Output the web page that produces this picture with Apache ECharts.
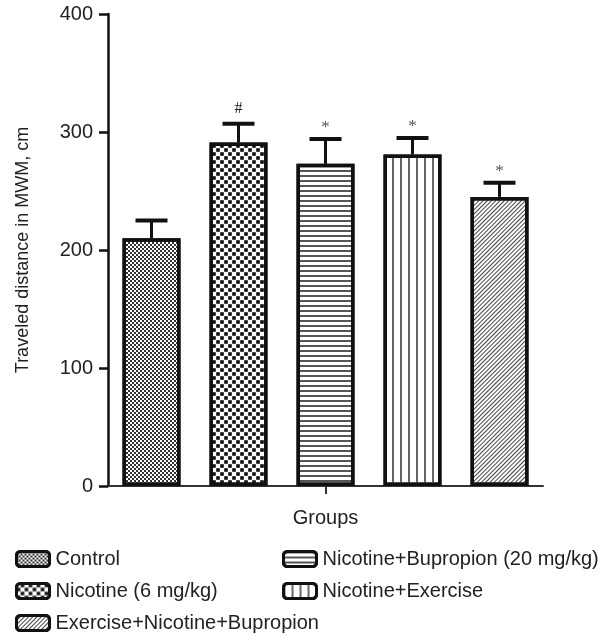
<!DOCTYPE html>
<html>
<head>
<meta charset="utf-8">
<script src="https://cdn.jsdelivr.net/npm/echarts@6/dist/echarts.min.js"></script>
<style>
html,body{margin:0;padding:0;background:#fff;}
#c{width:605px;height:642px;}
</style>
</head>
<body>
<div id="c"></div>
<script>
const groups = ['Control', 'Nicotine (6 mg/kg)', 'Nicotine+Bupropion (20 mg/kg)', 'Nicotine+Exercise', 'Exercise+Nicotine+Bupropion'];
const means = [210, 291, 273, 281, 245];
const sems = [15, 16, 21, 14, 12];
const marks = ['', '#', '*', '*', '*'];
const yMin = 0, yMax = 400, yStep = 100;

const FONT = '"Liberation Sans", Arial, Helvetica, sans-serif';

const decals = [
  { symbol: 'rect', symbolSize: 1, dashArrayX: [[1.5, 1.5], [0, 1.5, 1.5, 0]], dashArrayY: [1.5, 0], color: '#333' },
  { symbol: 'rect', symbolSize: 0.9, dashArrayX: [[4, 4], [0, 4, 4, 0]], dashArrayY: [4, 0], color: '#111' },
  { symbol: 'rect', symbolSize: 1, dashArrayX: [1, 0], dashArrayY: [1.6, 2.1], color: '#555' },
  { symbol: 'rect', symbolSize: 1, dashArrayX: [1.6, 6], dashArrayY: [1, 0], color: '#666' },
  { symbol: 'rect', symbolSize: 1, dashArrayX: [1, 0], dashArrayY: [1, 1.6], rotation: -Math.PI / 4, color: '#444' }
];

const barSeries = groups.map((g, i) => ({
  name: g,
  type: 'bar',
  xAxisIndex: 0,
  barWidth: 58,
  barGap: '-100%',
  data: means.map((v, j) => (j === i ? v : '-')),
  itemStyle: {
    color: '#ffffff',
    borderColor: '#111',
    borderWidth: 3.5,
    decal: decals[i]
  },
  emphasis: { disabled: true },
  z: 2
}));

const errSeries = {
  type: 'custom',
  xAxisIndex: 0,
  data: means.map((m, i) => [i, m, sems[i]]),
  z: 3,
  silent: true,
  renderItem: function (params, api) {
    const i = api.value(0), m = api.value(1), s = api.value(2);
    const base = api.coord([i, m]);
    const top = api.coord([i, m + s]);
    const half = 16;
    const children = [
      { type: 'line', shape: { x1: base[0], y1: base[1], x2: top[0], y2: top[1] }, style: { stroke: '#111', lineWidth: 3 } },
      { type: 'line', shape: { x1: top[0] - half, y1: top[1], x2: top[0] + half, y2: top[1] }, style: { stroke: '#111', lineWidth: 4 } }
    ];
    const mk = marks[params.dataIndex];
    if (mk) {
      const isHash = mk === '#';
      children.push({
        type: 'text',
        style: {
          text: mk, x: top[0], y: top[1] - (isHash ? 7 : 3),
          align: 'center', verticalAlign: 'bottom',
          fontSize: isHash ? 16 : 17, fontFamily: '"Liberation Serif", "DejaVu Serif", serif',
          fill: isHash ? '#222' : '#555'
        }
      });
    }
    return { type: 'group', children: children };
  }
};

const legendBase = {
  orient: 'vertical', top: 544,
  itemWidth: 33, itemHeight: 15, itemGap: 12,
  icon: 'roundRect',
  itemStyle: { borderColor: '#111', borderWidth: 3 },
  textStyle: { fontSize: 20, lineHeight: 20, color: '#222', fontFamily: FONT, padding: [0, 0, 0, 1] },
  selectedMode: false
};

const option = {
  backgroundColor: '#ffffff',
  animation: false,
  grid: { left: 108, right: 62, top: 14, bottom: 156 },
  legend: [
    Object.assign({}, legendBase, { left: 10, data: [groups[0], groups[1], groups[4]] }),
    Object.assign({}, legendBase, { left: 277, data: [groups[2], groups[3]] })
  ],
  xAxis: [
    {
      type: 'category',
      data: groups,
      axisLine: { show: true, lineStyle: { color: '#333', width: 2 } },
      axisTick: { show: false },
      axisLabel: { show: false }
    },
    {
      type: 'category',
      data: ['Groups'],
      position: 'bottom',
      axisLine: { show: false },
      axisTick: { show: true, alignWithLabel: true, length: 8, lineStyle: { color: '#333', width: 2 } },
      axisLabel: { show: true, fontSize: 20, color: '#222', fontFamily: FONT, margin: 22 }
    }
  ],
  yAxis: {
    type: 'value',
    min: yMin, max: yMax, interval: yStep,
    name: 'Traveled distance in MWM, cm',
    nameLocation: 'middle',
    nameGap: 76,
    nameRotate: 90,
    nameTextStyle: { fontSize: 18, color: '#222', fontFamily: FONT },
    axisLine: { show: true, lineStyle: { color: '#111', width: 2.5 } },
    axisTick: { show: true, length: 9, lineStyle: { color: '#111', width: 2.5 } },
    axisLabel: { fontSize: 20, color: '#222', fontFamily: FONT, margin: 15 },
    splitLine: { show: false }
  },
  series: barSeries.concat([errSeries])
};

const chart = echarts.init(document.getElementById('c'), null, { renderer: 'canvas' });
chart.setOption(option);
</script>
</body>
</html>
